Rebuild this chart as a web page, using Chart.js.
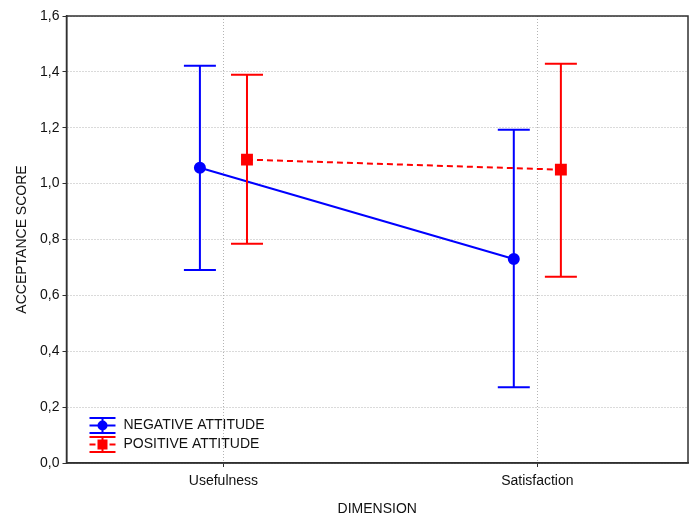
<!DOCTYPE html>
<html>
<head>
<meta charset="utf-8">
<script src="https://cdn.jsdelivr.net/npm/chart.js@4.4.1/dist/chart.umd.min.js"></script>
<style>
  html, body { margin: 0; padding: 0; background: #fff; overflow: hidden; }
  #wrap { position: relative; width: 689px; height: 513px; }
  canvas { display: block; }
</style>
</head>
<body>
<div id="wrap"><canvas id="plot"></canvas></div>
<script>
// data
const categories = ['Usefulness', 'Satisfaction'];
const negMean = [1.057, 0.730];
const negLow = [0.691, 0.271];
const negHigh = [1.422, 1.193];
const posMean = [1.086, 1.050];
const posLow = [0.785, 0.667];
const posHigh = [1.390, 1.429];
const seriesNames = ['NEGATIVE ATTITUDE', 'POSITIVE ATTITUDE'];

const BLUE = '#0000ff';
const RED = '#ff0000';
const FONT = { family: 'Arial, "Liberation Sans", sans-serif', size: 14 };
const shift = 0.075; // side-by-side offset of the two groups

const mk = (means, lows, highs, dx) => means.map((m, i) => ({ x: i + dx, y: m, lo: lows[i], hi: highs[i] }));

// error bars, drawn with the chart's own scales
const errorBars = {
  id: 'errorBars',
  afterDatasetsDraw(chart) {
    const { ctx, scales: { x, y } } = chart;
    chart.data.datasets.forEach((ds) => {
      ctx.save();
      ctx.strokeStyle = ds.borderColor;
      ctx.lineWidth = 2;
      ds.data.forEach((p) => {
        const px = x.getPixelForValue(p.x);
        const top = y.getPixelForValue(p.hi);
        const bot = y.getPixelForValue(p.lo);
        ctx.beginPath();
        ctx.moveTo(px, top); ctx.lineTo(px, bot);
        ctx.moveTo(px - 16, top); ctx.lineTo(px + 16, top);
        ctx.moveTo(px - 16, bot); ctx.lineTo(px + 16, bot);
        ctx.stroke();
      });
      ctx.restore();
    });
  }
};

// frame + legend inside the plot (lower left)
const frameAndLegend = {
  id: 'frameAndLegend',
  afterDraw(chart) {
    const { ctx, chartArea: a } = chart;
    ctx.save();
    ctx.strokeStyle = '#303030';
    ctx.lineWidth = 1.5;
    ctx.strokeRect(a.left, a.top, a.right - a.left, a.bottom - a.top);

    const x0 = a.left + 23, x1 = a.left + 49, xm = (x0 + x1) / 2;
    chart.data.datasets.forEach((ds, i) => {
      const yc = a.bottom - 37.5 + i * 19;
      ctx.strokeStyle = ds.borderColor;
      ctx.fillStyle = ds.borderColor;
      ctx.lineWidth = 2;
      ctx.setLineDash([]);
      ctx.beginPath();
      ctx.moveTo(x0, yc - 7.5); ctx.lineTo(x1, yc - 7.5);
      ctx.moveTo(x0, yc + 7.5); ctx.lineTo(x1, yc + 7.5);
      ctx.moveTo(xm, yc - 7.5); ctx.lineTo(xm, yc + 7.5);
      ctx.stroke();
      ctx.setLineDash(ds.borderDash || []);
      ctx.beginPath();
      ctx.moveTo(x0, yc); ctx.lineTo(x1, yc);
      ctx.stroke();
      ctx.setLineDash([]);
      ctx.beginPath();
      if (ds.pointStyle === 'circle') ctx.arc(xm, yc, 5, 0, Math.PI * 2);
      else ctx.rect(xm - 5, yc - 5, 10, 10);
      ctx.fill();
      ctx.fillStyle = '#111';
      ctx.font = FONT.size + 'px ' + FONT.family;
      ctx.textBaseline = 'middle';
      ctx.fillText(seriesNames[i], x1 + 8, yc);
    });
    ctx.restore();
  }
};

const gridOpts = {
  color: '#b4b4b4',
  tickLength: 4,
  tickColor: '#303030',
  tickBorderDash: []
};

const ctx = document.getElementById('plot').getContext('2d');

new Chart(ctx, {
  type: 'line',
  data: {
    datasets: [{
      label: seriesNames[0],
      data: mk(negMean, negLow, negHigh, -shift),
      borderColor: BLUE,
      backgroundColor: BLUE,
      borderWidth: 2,
      pointStyle: 'circle',
      pointRadius: 5,
      pointHoverRadius: 5,
      tension: 0
    }, {
      label: seriesNames[1],
      data: mk(posMean, posLow, posHigh, shift),
      borderColor: RED,
      backgroundColor: RED,
      borderWidth: 2,
      borderDash: [6, 4],
      pointStyle: 'rect',
      pointRadius: 7,
      pointHoverRadius: 7,
      tension: 0
    }]
  },
  options: {
    responsive: true,
    maintainAspectRatio: false,
    animation: false,
    layout: { autoPadding: false, padding: { top: 16, right: 1, left: 0, bottom: 0 } },
    scales: {
      x: {
        type: 'linear',
        min: -0.5,
        max: 1.48,
        afterBuildTicks: (axis) => { axis.ticks = categories.map((c, i) => ({ value: i })); },
        afterFit: (axis) => { axis.height = 50; axis.paddingLeft = 0; axis.paddingRight = 0; },
        ticks: {
          callback: (v) => categories[v],
          color: '#111',
          font: FONT,
          padding: 6,
          maxRotation: 0
        },
        grid: gridOpts,
        border: { display: true, color: '#303030', width: 1.5, dash: [1, 2] },
        title: { display: true, text: 'DIMENSION', color: '#111', font: FONT, padding: { top: -5, bottom: -5 } }
      },
      y: {
        min: 0,
        max: 1.6,
        afterFit: (axis) => { axis.width = 66.5; },
        ticks: {
          stepSize: 0.2,
          callback: (v) => v.toFixed(1).replace('.', ','),
          color: '#111',
          font: FONT,
          padding: 3
        },
        grid: gridOpts,
        border: { display: true, color: '#303030', width: 1.5, dash: [1, 2] },
        title: { display: true, text: 'ACCEPTANCE SCORE', color: '#111', font: FONT, padding: { top: 14, bottom: 14 } }
      }
    },
    plugins: {
      legend: { display: false },
      tooltip: { enabled: false }
    }
  },
  plugins: [errorBars, frameAndLegend]
});
</script>
</body>
</html>
